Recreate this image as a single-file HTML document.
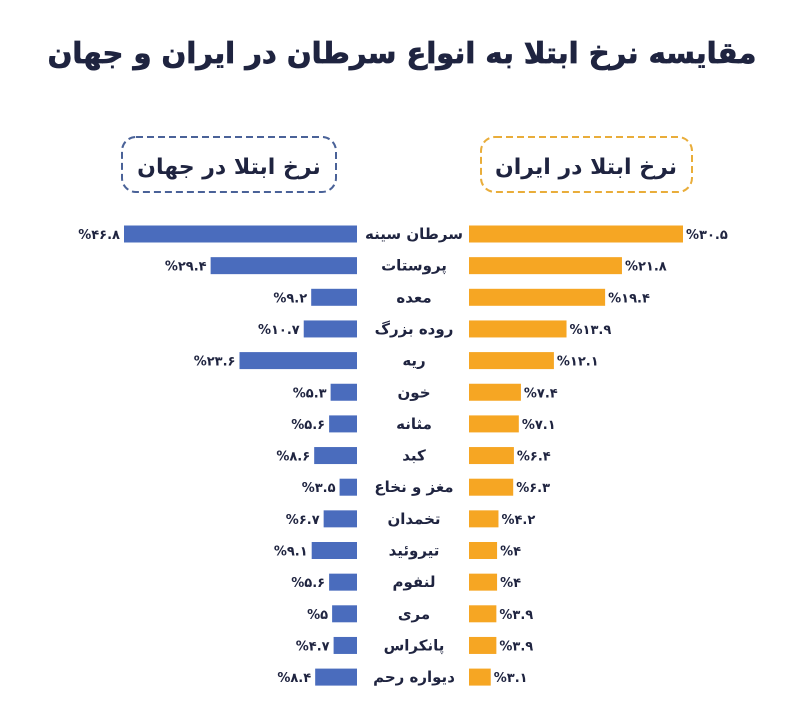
<!DOCTYPE html>
<html><head><meta charset="utf-8">
<style>
body{margin:0;background:#fff;width:800px;height:719px;overflow:hidden;font-family:"DejaVu Sans",sans-serif;}
svg text{font-family:"DejaVu Sans",sans-serif;}
</style></head>
<body>
<svg id="chart" width="800" height="719">
  <text x="402" y="63" text-anchor="middle" font-size="29" font-weight="bold" fill="#1f2440" stroke="#1f2440" stroke-width="0.8" direction="rtl">مقایسه نرخ ابتلا به انواع سرطان در ایران و جهان</text>
  <rect x="122" y="137" width="214" height="55" rx="14" fill="none" stroke="#4a6298" stroke-width="2" stroke-dasharray="7,4"/>
  <text x="229" y="174" text-anchor="middle" font-size="22" font-weight="bold" fill="#1f2440" direction="rtl">نرخ ابتلا در جهان</text>
  <rect x="481" y="137" width="211" height="55" rx="14" fill="none" stroke="#e9ad3a" stroke-width="2" stroke-dasharray="7,4"/>
  <text x="586" y="174" text-anchor="middle" font-size="22" font-weight="bold" fill="#1f2440" direction="rtl">نرخ ابتلا در ایران</text>
  <g id="bars"></g>
</svg>
<script>
const categories=["سرطان سینه","پروستات","معده","روده بزرگ","ریه","خون","مثانه","کبد","مغز و نخاع","تخمدان","تیروئید","لنفوم","مری","پانکراس","دیواره رحم"];
const iranValues=[30.5,21.8,19.4,13.9,12.1,7.4,7.1,6.4,6.3,4.2,4,4,3.9,3.9,3.1];
const worldValues=[46.8,29.4,9.2,10.7,23.6,5.3,5.6,8.6,3.5,6.7,9.1,5.6,5,4.7,8.4];

const NS="http://www.w3.org/2000/svg";
const g=document.getElementById('bars');
const rowY=i=>234+i*31.65;
const iranX0=469, iranScale=214/30.5;
const worldX0=357, worldScale=233/46.8;
const barH=17;
const fa=v=>String(v).replace(/\d/g,d=>"۰۱۲۳۴۵۶۷۸۹"[d]);
function mk(tag,attrs){const e=document.createElementNS(NS,tag);for(const k in attrs)e.setAttribute(k,attrs[k]);return e;}
categories.forEach((c,i)=>{
  const y=rowY(i);
  const iw=iranValues[i]*iranScale, ww=worldValues[i]*worldScale;
  const ib=mk('rect',{x:iranX0,y:y-barH/2,width:iw,height:barH,fill:'#f6a623'});
  
  
  g.appendChild(ib);
  const wb=mk('rect',{x:worldX0-ww,y:y-barH/2,width:ww,height:barH,fill:'#4a6cbd'});
  
  
  g.appendChild(wb);
  const cl=mk('text',{x:414,y:y+5,'text-anchor':'middle','font-size':15,'font-weight':'bold',fill:'#1f2440',direction:'rtl'});
  cl.textContent=c;
  
  
  g.appendChild(cl);
  const il=mk('text',{x:iranX0+iw+3,y:y+5,'text-anchor':'start','font-size':13,'font-weight':'bold',fill:'#1f2440',direction:'ltr'});
  il.textContent='\u200E%\u200E'+fa(iranValues[i]);
  
  
  g.appendChild(il);
  const wl=mk('text',{x:worldX0-ww-4,y:y+5,'text-anchor':'end','font-size':13,'font-weight':'bold',fill:'#1f2440',direction:'ltr'});
  wl.textContent='\u200E%\u200E'+fa(worldValues[i]);
  
  
  g.appendChild(wl);
});
</script>
</body></html>
